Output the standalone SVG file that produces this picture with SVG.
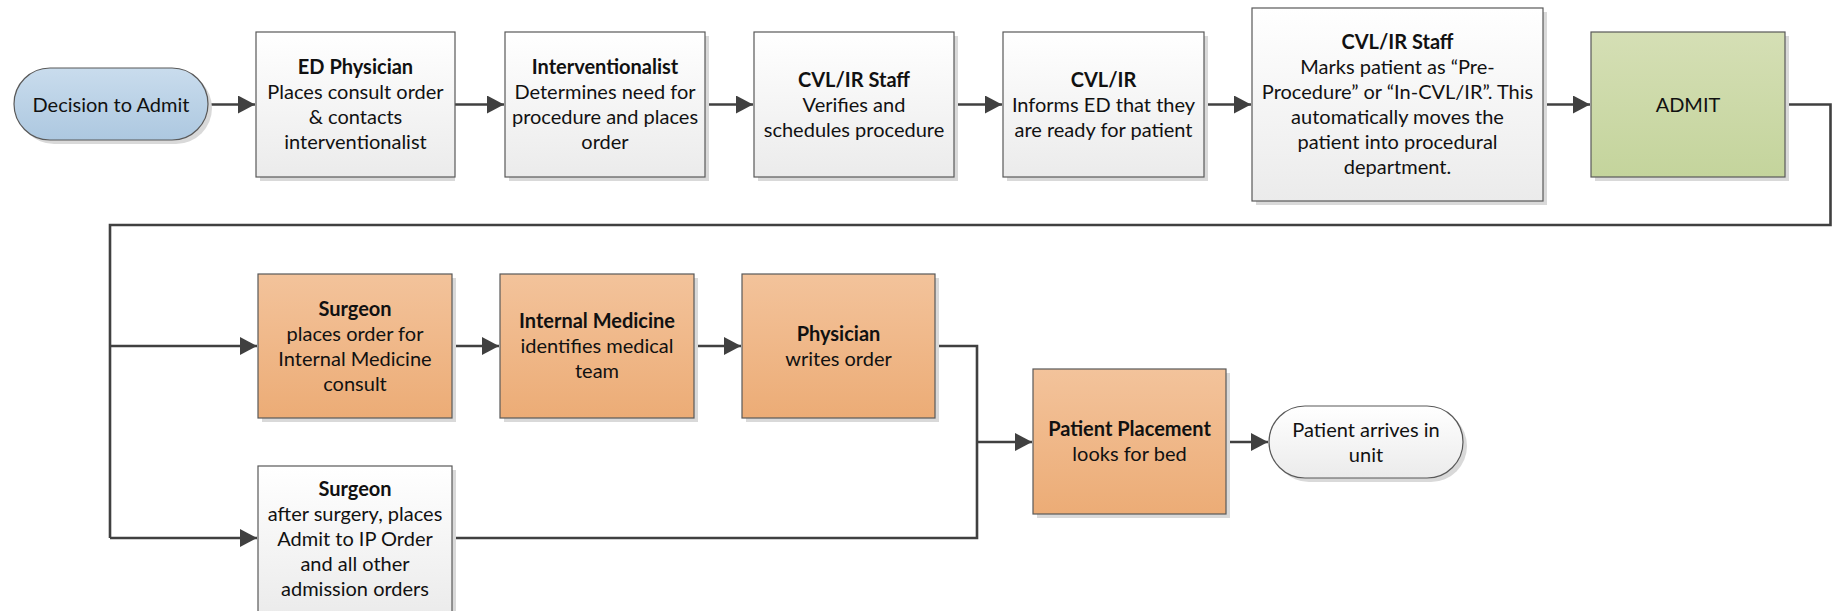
<svg xmlns="http://www.w3.org/2000/svg" width="1833" height="611" viewBox="0 0 1833 611">
<style>
text{font-family:"Lato","Liberation Sans",sans-serif;font-size:20px;fill:#111;text-anchor:middle}
.b{font-weight:bold}
.box{stroke:#595959;stroke-width:1.2}
.sh{fill:#d9d9d9}
.white{fill:url(#gw)}
.orange{fill:url(#go)}
.green{fill:url(#gg)}
.blue{fill:url(#gb)}
.conn{fill:none;stroke:#404040;stroke-width:2.6;stroke-linejoin:miter}
.arr{marker-end:url(#ah)}
</style>
<defs>
<linearGradient id="gw" x1="0" y1="0" x2="0" y2="1"><stop offset="0" stop-color="#ffffff"/><stop offset="1" stop-color="#ebebeb"/></linearGradient>
<linearGradient id="go" x1="0" y1="0" x2="0" y2="1"><stop offset="0" stop-color="#f3c39b"/><stop offset="1" stop-color="#ecac76"/></linearGradient>
<linearGradient id="gg" x1="0" y1="0" x2="0" y2="1"><stop offset="0" stop-color="#d5dfb5"/><stop offset="1" stop-color="#c4d49c"/></linearGradient>
<linearGradient id="gb" x1="0" y1="0" x2="0" y2="1"><stop offset="0" stop-color="#c9dced"/><stop offset="1" stop-color="#adc8e0"/></linearGradient>
<marker id="ah" markerUnits="userSpaceOnUse" markerWidth="18" markerHeight="20" refX="17" refY="9" orient="auto"><path d="M0,0 L17,9 L0,18 z" fill="#404040"/></marker>
</defs>

<g id="connectors">
<path class="conn arr" d="M208,104.5 H255"/>
<path class="conn arr" d="M455,104.5 H504"/>
<path class="conn arr" d="M705,104.5 H753"/>
<path class="conn arr" d="M954,104.5 H1002"/>
<path class="conn arr" d="M1204,104.5 H1251"/>
<path class="conn arr" d="M1543,104.5 H1590"/>
<path class="conn" d="M1785,104.5 H1830.5 V225 H110 V538"/>
<path class="conn arr" d="M110,346 H257"/>
<path class="conn arr" d="M110,538 H257"/>
<path class="conn arr" d="M452,346 H499"/>
<path class="conn arr" d="M694,346 H741"/>
<path class="conn" d="M935,346 H977 V538 H452"/>
<path class="conn arr" d="M977,442 H1032"/>
<path class="conn arr" d="M1226,442 H1268"/>
</g>

<g id="n-decision">
<rect class="sh" x="18" y="72" width="194" height="72" rx="36"/>
<rect class="box blue" x="14" y="68" width="194" height="72" rx="36"/>
<text x="111" y="111.5">Decision to Admit</text>
</g>

<g id="n-ed">
<rect class="sh" x="260" y="36" width="195" height="145"/>
<rect class="box white" x="256" y="32" width="199" height="145"/>
<text class="b" x="355.5" y="74">ED Physician</text>
<text x="355.5" y="99">Places consult order</text>
<text x="355.5" y="124">&amp; contacts</text>
<text x="355.5" y="149">interventionalist</text>
</g>

<g id="n-interv">
<rect class="sh" x="509" y="36" width="200" height="145"/>
<rect class="box white" x="505" y="32" width="200" height="145"/>
<text class="b" x="605" y="74">Interventionalist</text>
<text x="605" y="99">Determines need for</text>
<text x="605" y="124">procedure and places</text>
<text x="605" y="149">order</text>
</g>

<g id="n-staff1">
<rect class="sh" x="758" y="36" width="200" height="145"/>
<rect class="box white" x="754" y="32" width="200" height="145"/>
<text class="b" x="854" y="86.5">CVL/IR Staff</text>
<text x="854" y="111.5">Verifies and</text>
<text x="854" y="136.5">schedules procedure</text>
</g>

<g id="n-cvlir">
<rect class="sh" x="1007" y="36" width="201" height="145"/>
<rect class="box white" x="1003" y="32" width="201" height="145"/>
<text class="b" x="1103.5" y="86.5">CVL/IR</text>
<text x="1103.5" y="111.5">Informs ED that they</text>
<text x="1103.5" y="136.5">are ready for patient</text>
</g>

<g id="n-staff2">
<rect class="sh" x="1256" y="12" width="291" height="193"/>
<rect class="box white" x="1252" y="8" width="291" height="193"/>
<text class="b" x="1397.5" y="49">CVL/IR Staff</text>
<text x="1397.5" y="74">Marks patient as “Pre-</text>
<text x="1397.5" y="99">Procedure” or “In-CVL/IR”. This</text>
<text x="1397.5" y="124">automatically moves the</text>
<text x="1397.5" y="149">patient into procedural</text>
<text x="1397.5" y="174">department.</text>
</g>

<g id="n-admit">
<rect class="sh" x="1595" y="36" width="194" height="145"/>
<rect class="box green" x="1591" y="32" width="194" height="145"/>
<text x="1688" y="111.5">ADMIT</text>
</g>

<g id="n-surgeon1">
<rect class="sh" x="262" y="278" width="194" height="144"/>
<rect class="box orange" x="258" y="274" width="194" height="144"/>
<text class="b" x="355" y="315.5">Surgeon</text>
<text x="355" y="340.5">places order for</text>
<text x="355" y="365.5">Internal Medicine</text>
<text x="355" y="390.5">consult</text>
</g>

<g id="n-intmed">
<rect class="sh" x="504" y="278" width="194" height="144"/>
<rect class="box orange" x="500" y="274" width="194" height="144"/>
<text class="b" x="597" y="328">Internal Medicine</text>
<text x="597" y="353">identifies medical</text>
<text x="597" y="378">team</text>
</g>

<g id="n-physician">
<rect class="sh" x="746" y="278" width="193" height="144"/>
<rect class="box orange" x="742" y="274" width="193" height="144"/>
<text class="b" x="838.5" y="340.5">Physician</text>
<text x="838.5" y="365.5">writes order</text>
</g>

<g id="n-placement">
<rect class="sh" x="1037" y="373" width="193" height="145"/>
<rect class="box orange" x="1033" y="369" width="193" height="145"/>
<text class="b" x="1129.5" y="436">Patient Placement</text>
<text x="1129.5" y="461">looks for bed</text>
</g>

<g id="n-arrives">
<rect class="sh" x="1273" y="410" width="194" height="72" rx="36"/>
<rect class="box white" x="1269" y="406" width="194" height="72" rx="36"/>
<text x="1366" y="436.5">Patient arrives in</text>
<text x="1366" y="461.5">unit</text>
</g>

<g id="n-surgeon2">
<rect class="sh" x="262" y="470" width="194" height="146"/>
<rect class="box white" x="258" y="466" width="194" height="150"/>
<text class="b" x="355" y="496">Surgeon</text>
<text x="355" y="521">after surgery, places</text>
<text x="355" y="546">Admit to IP Order</text>
<text x="355" y="571">and all other</text>
<text x="355" y="596">admission orders</text>
</g>
</svg>
